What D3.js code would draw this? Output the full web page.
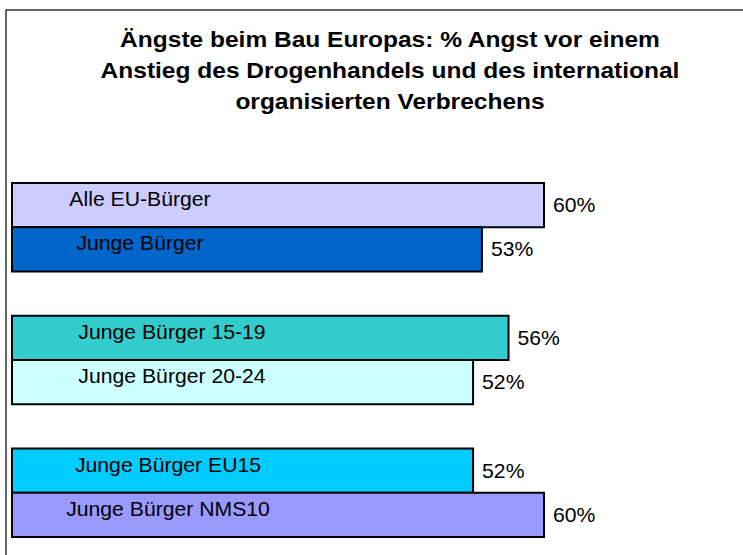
<!DOCTYPE html>
<html>
<head>
<meta charset="utf-8">
<script src="https://cdn.jsdelivr.net/npm/d3@7"></script>
<style>
  body { margin: 0; background: #fff; }
  svg { display: block; font-family: "Liberation Sans", Arial, sans-serif; }
</style>
</head>
<body>
<svg width="743" height="555"></svg>
<script>
  const titleLines = [
    "Ängste beim Bau Europas: % Angst vor einem",
    "Anstieg des Drogenhandels und des international",
    "organisierten Verbrechens",
  ];
  const groups = ["g1", "g2", "g3"];
  const categories = [
    "Alle EU-Bürger", "Junge Bürger",
    "Junge Bürger 15-19", "Junge Bürger 20-24",
    "Junge Bürger EU15", "Junge Bürger NMS10",
  ];
  const categoryGroup = ["g1", "g1", "g2", "g2", "g3", "g3"];
  const values = [60, 53, 56, 52, 52, 60];
  const colors = ["#ccccff", "#0066cc", "#33cccc", "#ccffff", "#00ccff", "#9999ff"];

  const svg = d3.select("svg");

  // frame, cut off at right and bottom
  svg.append("rect")
    .attr("x", 6).attr("y", 10)
    .attr("width", 760).attr("height", 560)
    .attr("fill", "none")
    .attr("stroke", "#333")
    .attr("stroke-width", 1.5);

  // the original text is drawn a little wider than the font
  const stretch = (px, py, s) => `translate(${px},${py}) scale(${s},1)`;

  svg.append("g")
    .selectAll("text")
    .data(titleLines)
    .join("text")
    .attr("transform", (d, i) => stretch(390, 47 + i * 31, 1.115))
    .attr("text-anchor", "middle")
    .attr("font-size", 22)
    .attr("font-weight", "bold")
    .text((d) => d);

  const x = d3.scaleLinear().domain([0, 60]).range([12, 544]);

  const yGroup = d3.scaleBand()
    .domain(groups)
    .range([183, 537])
    .paddingInner(1 / 3)
    .paddingOuter(0);

  const rows = categories.map((c, i) => ({
    name: c,
    group: categoryGroup[i],
    value: values[i],
    color: colors[i],
    idx: i % 2,
  }));

  const yInner = d3.scaleBand().domain([0, 1]).range([0, yGroup.bandwidth()]);
  const yTop = (d) => yGroup(d.group) + yInner(d.idx);
  const labelCenter = { g1: 140, g2: 172, g3: 168 };

  const bars = svg.append("g");

  bars.selectAll("rect")
    .data(rows)
    .join("rect")
    .attr("x", x(0))
    .attr("y", yTop)
    .attr("width", (d) => x(d.value) - x(0))
    .attr("height", yInner.bandwidth())
    .attr("fill", (d) => d.color)
    .attr("stroke", "#000")
    .attr("stroke-width", 2);

  bars.selectAll("text.name")
    .data(rows)
    .join("text")
    .attr("class", "name")
    .attr("transform", (d) =>
      stretch(labelCenter[d.group], yTop(d) + yInner.bandwidth() / 2 + 1, 1.06))
    .attr("text-anchor", "middle")
    .attr("font-size", 20)
    .text((d) => d.name);

  bars.selectAll("text.value")
    .data(rows)
    .join("text")
    .attr("class", "value")
    .attr("transform", (d) =>
      stretch(x(d.value) + 9, yTop(d) + yInner.bandwidth() / 2 + 7, 1.06))
    .attr("font-size", 20)
    .text((d) => d.value + "%");
</script>
</body>
</html>
